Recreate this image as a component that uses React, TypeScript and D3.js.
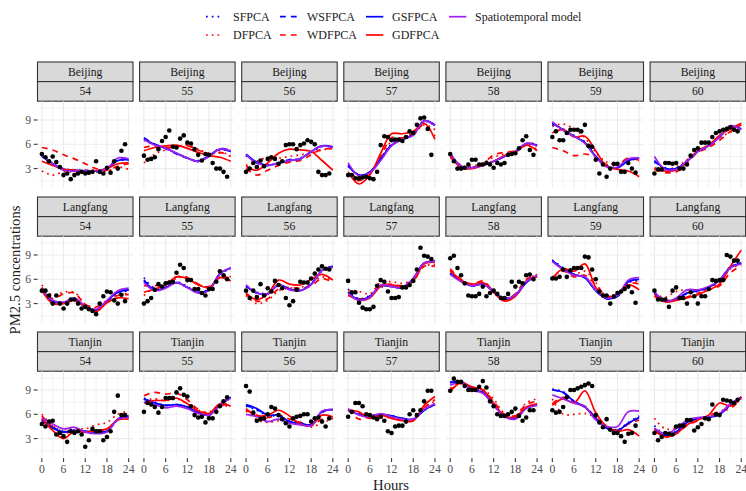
import React from "react";
import * as d3 from "d3";

const CITIES = ["Beijing", "Langfang", "Tianjin"];
const DAYS = ["54", "55", "56", "57", "58", "59", "60"];
const OBS_HOURS = [0,1,2,3,4,5,6,7,8,9,10,11,12,13,14,15,16,17,18,19,20,21,22,23];
const KNOT_HOURS = [0, 3, 6, 9, 12, 15, 18, 21, 24];
const X_TICKS = [0, 6, 12, 18, 24];
const Y_TICKS = [3, 6, 9];

// observed PM2.5 (panel order: Beijing 54..60, Langfang 54..60, Tianjin 54..60)
const OBS = [
  [4.8,4.4,3.9,4.5,3.8,3.2,2.2,2.4,1.7,2.2,2.4,2.6,2.4,2.5,2.6,3.9,2.6,2.4,3.1,2.5,3.9,3.0,5.2,6.0],
  [4.6,4.1,4.2,4.4,5.4,6.4,6.9,7.7,5.7,5.6,6.7,7.1,6.2,6.1,5.4,4.7,4.0,4.8,4.7,3.7,3.0,3.0,2.6,2.0],
  [2.6,3.0,3.7,3.2,4.0,3.3,4.2,4.4,4.2,3.6,3.9,5.9,6.0,6.0,5.4,5.9,6.1,6.5,6.3,6.0,2.6,2.2,2.2,2.4],
  [2.2,2.2,1.8,1.8,1.9,2.0,1.8,1.7,2.6,5.9,7.0,6.9,6.5,6.6,6.6,6.4,6.9,7.6,7.4,8.4,9.2,9.3,7.9,4.7],
  [4.8,3.9,3.0,3.0,3.1,3.5,4.1,4.1,3.5,3.5,3.7,3.5,3.1,3.7,3.5,3.7,4.7,4.8,4.9,5.5,6.5,7.0,5.3,4.7],
  [6.9,7.6,6.5,6.5,7.4,7.8,7.8,7.8,7.6,8.4,5.8,5.7,4.1,2.4,3.5,2.0,3.0,3.6,3.6,2.6,2.6,3.7,3.0,2.5],
  [2.4,2.9,2.9,3.7,3.7,3.6,3.7,3.0,3.0,3.5,4.6,5.3,5.5,6.2,6.2,6.2,6.9,7.4,7.6,7.8,7.9,8.1,7.8,7.6],
  [4.6,4.6,4.0,3.0,4.0,3.0,2.4,3.0,3.5,3.5,3.0,2.4,2.6,2.3,2.1,1.7,3.0,3.9,4.5,4.4,3.4,3.0,4.1,3.3],
  [3.0,3.3,3.7,4.7,5.4,5.1,5.5,5.6,5.7,6.8,7.8,7.4,5.9,5.9,4.8,4.8,4.3,4.0,4.8,4.8,5.7,7.0,6.5,6.0],
  [4.6,3.7,4.6,3.8,5.4,4.0,4.9,4.5,5.8,5.3,4.9,3.7,2.8,3.3,4.7,5.7,5.6,5.6,6.1,6.7,7.2,7.6,7.3,7.2],
  [5.8,4.4,4.4,3.1,2.5,2.3,2.3,2.6,5.2,5.9,5.7,4.5,3.7,3.7,3.8,5.0,5.0,5.3,5.8,7.2,9.9,8.9,8.8,8.5],
  [8.6,8.9,7.4,6.5,5.5,4.0,3.9,3.9,4.2,5.1,3.9,4.3,4.6,4.2,3.7,3.7,4.2,5.7,5.1,5.7,5.5,6.5,6.6,6.0],
  [6.1,6.1,6.3,7.2,6.3,7.1,7.4,7.4,7.4,8.8,8.7,7.2,6.0,4.5,4.0,4.0,3.0,3.9,4.3,4.5,4.8,5.1,4.4,3.1],
  [4.6,3.5,3.5,3.5,2.6,4.6,5.0,3.7,3.7,3.0,4.4,3.9,3.0,3.9,3.9,4.8,5.9,5.8,5.9,5.9,9.0,8.8,8.3,8.3],
  [4.8,4.5,5.1,5.2,3.5,3.7,3.3,2.6,3.9,3.7,3.9,3.5,2.0,2.8,4.2,3.9,3.9,2.8,3.2,3.9,6.3,8.3,5.9,5.9],
  [6.3,7.4,7.2,6.9,6.2,6.9,8.0,8.0,8.0,8.7,9.2,8.4,8.2,7.0,5.9,5.6,5.7,5.0,5.5,5.5,6.3,7.0,7.6,8.1],
  [9.5,8.8,6.2,5.2,5.4,5.5,6.0,6.9,6.7,5.9,5.4,4.9,4.5,5.5,5.7,5.8,6.0,6.0,5.1,5.5,5.6,5.1,4.5,5.5],
  [5.7,6.3,7.4,7.4,7.0,6.0,5.9,5.6,5.4,5.7,5.2,3.9,3.7,4.5,4.6,4.6,5.1,6.0,6.5,5.9,6.5,7.6,8.9,8.9],
  [8.9,10.4,10.0,10.0,9.5,9.0,9.0,9.0,9.4,10.1,9.3,7.6,7.0,6.0,5.8,5.8,6.0,6.3,6.7,5.8,5.2,5.6,6.5,6.5],
  [6.5,6.2,6.3,6.9,8.1,9.0,9.0,9.2,9.4,9.6,9.8,9.5,5.9,5.0,4.4,5.4,4.1,3.7,3.7,3.3,2.6,3.6,3.7,4.6],
  [3.7,2.8,3.2,3.7,3.6,3.5,4.5,4.6,4.6,5.3,5.3,4.0,4.4,4.8,5.5,5.4,7.2,6.0,5.9,7.8,7.7,7.6,7.4,7.8],
];

// fitted curves, values at KNOT_HOURS
const SFPCA = [
  [4.5,3.5,3.0,2.8,2.8,2.6,3.1,4.0,4.0],
  [6.5,5.9,5.4,4.9,4.3,4.0,4.6,5.3,5.2],
  [4.6,3.7,3.5,3.6,4.0,4.3,5.0,5.7,5.8],
  [3.3,2.2,2.6,4.2,6.0,6.6,7.2,8.8,8.4],
  [4.8,3.3,3.2,3.4,3.9,4.5,5.1,6.0,5.9],
  [8.4,7.9,7.1,6.3,4.5,3.4,3.2,4.1,4.2],
  [3.8,3.1,3.0,4.0,5.1,5.9,6.9,8.1,8.0],
  [4.6,3.2,3.0,3.5,2.6,2.2,3.2,4.3,4.6],
  [6.2,4.9,5.1,5.7,5.1,4.4,4.8,6.6,7.3],
  [5.1,4.4,4.3,5.3,4.8,4.7,5.4,7.0,7.5],
  [4.8,3.6,4.0,5.0,5.2,5.1,6.1,7.9,8.3],
  [6.8,5.8,5.3,5.4,4.6,3.7,4.1,5.6,6.5],
  [8.4,7.4,6.6,6.3,4.6,3.7,3.9,5.6,5.9],
  [4.3,3.3,3.5,4.2,4.5,5.0,5.9,7.5,8.0],
  [5.4,4.5,3.9,4.1,3.9,3.9,3.9,5.3,5.9],
  [8.0,7.5,7.1,7.2,6.9,6.2,5.9,7.1,8.0],
  [7.0,6.5,5.8,5.8,5.1,4.8,4.6,6.2,6.7],
  [6.6,6.0,5.8,6.0,5.8,5.5,5.4,6.5,7.3],
  [10.0,10.0,9.2,8.8,7.3,5.8,5.5,6.8,7.2],
  [9.1,8.8,7.6,6.9,5.5,4.3,4.1,5.0,5.8],
  [4.6,3.5,3.9,5.0,5.5,5.6,6.0,7.2,8.1],
];
const DFPCA = [
  [2.7,2.2,2.6,2.6,2.8,2.8,2.7,3.2,2.9],
  [3.7,4.8,5.3,5.7,5.9,5.4,4.9,4.9,4.8],
  [3.4,3.9,4.4,4.3,4.5,4.7,4.9,5.3,5.5],
  [2.5,1.9,2.6,4.3,6.3,6.6,7.2,8.4,7.8],
  [4.6,3.4,3.3,3.7,4.4,4.8,5.2,5.8,5.4],
  [8.2,8.5,7.9,6.8,5.0,3.8,3.5,4.2,3.9],
  [3.1,2.9,3.2,4.1,5.2,5.9,6.8,7.5,8.0],
  [5.3,4.0,4.4,4.4,2.9,2.5,3.4,4.2,4.2],
  [4.0,5.0,5.4,6.1,6.3,5.4,5.0,6.4,6.3],
  [4.0,3.0,3.4,4.6,4.9,5.0,5.5,6.3,5.8],
  [4.6,4.5,4.2,5.6,5.7,5.5,6.0,7.6,7.8],
  [7.0,5.9,5.3,5.7,4.4,3.4,4.1,5.9,6.6],
  [6.3,7.1,6.6,7.0,5.6,3.9,4.2,5.6,5.7],
  [4.2,3.8,4.5,4.7,4.4,4.9,5.6,7.3,7.8],
  [6.0,4.6,3.9,4.3,4.2,4.7,5.0,6.0,6.4],
  [7.8,7.9,7.7,7.9,7.3,6.5,6.3,7.1,6.9],
  [6.4,5.3,5.0,5.2,5.1,5.0,4.4,5.0,5.4],
  [6.6,6.0,5.6,5.6,5.6,5.2,5.4,6.8,7.6],
  [9.2,9.8,9.4,9.1,7.9,6.1,5.8,7.4,7.9],
  [7.9,6.0,6.0,6.1,5.6,4.6,4.1,4.8,5.8],
  [5.5,4.2,4.3,5.0,5.4,5.8,6.3,7.0,7.8],
];
const WSFPCA = [
  [4.6,3.6,2.9,2.7,2.7,2.7,3.0,4.1,4.1],
  [6.8,6.0,5.5,4.8,4.3,3.9,4.5,5.5,5.2],
  [4.7,3.7,3.4,3.7,4.1,4.2,5.1,5.8,5.6],
  [3.4,2.2,2.5,4.2,5.9,6.6,7.2,8.9,8.3],
  [4.8,3.3,3.1,3.5,3.9,4.5,5.1,6.1,5.8],
  [8.6,7.8,7.0,6.2,4.5,3.3,3.1,4.0,4.3],
  [3.9,3.0,3.0,3.9,5.1,5.8,6.9,8.2,7.9],
  [4.7,3.3,3.1,3.6,2.6,2.2,3.3,4.4,4.7],
  [5.9,4.8,5.0,5.6,5.0,4.4,4.7,6.7,7.4],
  [5.2,4.3,4.2,5.3,4.8,4.6,5.4,7.1,7.6],
  [4.4,3.5,3.9,5.2,5.1,5.0,6.1,8.0,8.2],
  [6.7,5.8,5.2,5.4,4.5,3.6,4.0,5.6,6.4],
  [8.3,7.3,6.6,6.2,4.6,3.6,3.9,5.7,6.0],
  [4.4,3.3,3.5,4.3,4.6,5.0,5.9,7.5,8.0],
  [5.3,4.4,3.8,4.0,3.9,3.8,3.9,5.4,5.8],
  [7.9,7.4,7.1,7.2,6.9,6.2,5.9,7.2,8.1],
  [7.1,6.6,5.9,5.8,5.1,4.9,4.7,6.3,6.6],
  [6.5,6.0,5.8,6.0,5.8,5.5,5.4,6.5,7.2],
  [9.9,10.0,9.1,8.7,7.2,5.8,5.5,6.8,7.2],
  [9.0,8.7,7.6,6.9,5.5,4.3,4.0,4.9,5.6],
  [4.0,3.4,3.8,5.0,5.5,5.6,6.0,7.2,8.1],
];
const WDFPCA = [
  [5.6,5.3,4.7,4.2,3.6,3.0,2.8,3.3,3.6],
  [5.6,5.8,5.6,5.7,5.8,5.3,4.8,5.0,4.5],
  [3.0,2.2,2.8,3.4,3.8,4.0,4.7,5.4,5.4],
  [2.4,1.5,2.3,4.5,6.8,6.8,7.4,8.4,7.0],
  [4.4,3.3,3.1,3.6,4.7,5.0,5.2,6.0,6.2],
  [5.6,5.2,4.6,4.8,4.4,3.5,3.5,4.3,4.0],
  [2.9,2.5,2.6,3.7,5.0,5.6,6.5,7.6,8.4],
  [5.0,3.6,4.2,4.3,2.9,2.6,3.3,4.0,4.1],
  [5.2,5.2,5.5,6.3,6.2,5.4,5.1,6.3,6.1],
  [4.2,3.3,3.6,4.8,5.0,4.9,5.2,6.1,5.6],
  [4.0,3.6,3.8,5.2,5.4,5.2,5.8,7.6,7.6],
  [7.3,6.0,5.4,5.8,4.5,3.5,4.2,6.0,6.6],
  [6.2,7.0,6.3,6.5,5.3,4.0,4.0,5.5,5.4],
  [4.0,3.4,3.5,3.8,4.2,4.7,5.2,6.8,7.7],
  [5.8,4.4,3.5,4.2,3.9,3.9,4.1,5.4,5.6],
  [8.3,8.7,8.5,8.6,7.8,6.6,6.1,7.0,7.4],
  [6.5,5.9,5.6,5.9,5.4,5.0,4.6,5.4,5.5],
  [6.6,5.4,5.7,5.8,5.6,5.3,5.2,6.8,7.8],
  [9.0,9.8,9.3,9.0,7.6,6.0,5.8,7.2,7.6],
  [7.3,8.1,7.4,7.0,5.6,4.5,4.0,4.8,5.3],
  [4.2,3.3,3.6,4.6,5.2,5.8,6.4,6.7,8.0],
];
const GSFPCA = [
  [4.6,3.6,2.9,2.8,2.7,2.7,3.0,4.0,4.1],
  [6.7,6.0,5.5,4.9,4.3,3.9,4.6,5.4,5.1],
  [4.8,3.8,3.4,3.7,4.0,4.2,5.1,5.8,5.7],
  [3.4,2.2,2.6,4.2,5.9,6.6,7.2,8.9,8.4],
  [4.8,3.3,3.1,3.4,3.9,4.5,5.1,6.1,5.9],
  [8.6,7.8,7.0,6.2,4.5,3.3,3.1,4.0,4.3],
  [4.0,3.0,3.0,3.9,5.1,5.8,6.9,8.2,7.9],
  [4.7,3.3,3.1,3.6,2.6,2.2,3.3,4.4,4.7],
  [5.8,4.7,5.0,5.6,5.0,4.4,4.7,6.7,7.4],
  [5.2,4.3,4.2,5.3,4.8,4.6,5.4,7.1,7.6],
  [4.4,3.5,3.9,5.2,5.1,5.0,6.1,8.0,8.2],
  [6.7,5.8,5.2,5.4,4.5,3.6,4.0,5.6,6.4],
  [8.3,7.3,6.6,6.2,4.6,3.6,3.9,5.7,6.0],
  [4.4,3.3,3.5,4.3,4.6,5.0,5.9,7.5,8.0],
  [5.2,4.3,3.8,4.0,3.9,3.8,3.9,5.4,5.8],
  [7.9,7.4,7.1,7.2,6.9,6.2,5.9,7.2,8.1],
  [7.2,6.7,5.9,5.9,5.1,4.9,4.7,6.3,6.6],
  [6.5,6.0,5.8,6.0,5.8,5.5,5.4,6.5,7.2],
  [9.9,10.0,9.1,8.7,7.2,5.8,5.5,6.8,7.2],
  [9.0,8.7,7.6,6.9,5.5,4.3,4.0,4.9,5.6],
  [4.0,3.4,3.8,5.0,5.5,5.6,6.0,7.2,8.1],
];
const GDFPCA = [
  [3.9,3.4,2.9,2.8,2.6,2.7,3.0,3.6,3.7],
  [5.2,5.6,5.8,5.9,5.5,5.0,4.6,4.4,3.9],
  [3.3,2.8,3.7,4.9,5.4,5.3,5.1,4.0,2.8],
  [2.6,1.1,2.2,4.9,7.3,7.3,7.6,8.6,6.6],
  [4.6,3.1,3.0,3.4,3.9,4.6,5.0,5.9,5.2],
  [7.4,7.8,6.9,7.0,5.2,3.3,2.9,2.7,2.0],
  [3.0,2.7,2.8,3.9,5.2,5.9,7.1,7.9,8.6],
  [4.6,3.0,3.0,3.4,2.6,2.0,3.1,3.7,3.6],
  [4.4,4.8,5.3,6.3,6.1,5.3,5.0,6.2,5.8],
  [4.3,3.5,4.2,5.9,5.4,5.3,6.0,6.6,5.9],
  [4.1,3.4,3.7,5.1,5.3,5.1,5.8,7.9,8.1],
  [7.1,5.9,5.4,5.6,4.4,3.3,3.9,5.8,6.3],
  [6.1,7.3,7.0,7.9,5.0,3.8,4.1,5.3,4.7],
  [3.9,3.2,3.4,3.7,4.1,4.7,5.4,7.6,9.6],
  [5.5,4.0,3.0,3.9,3.8,4.0,4.2,5.3,5.4],
  [7.4,7.7,7.7,8.0,7.3,6.4,6.1,7.3,7.0],
  [6.7,5.8,5.9,6.5,5.8,4.8,4.6,5.9,5.7],
  [6.5,6.3,5.5,5.9,5.5,5.2,5.2,7.1,8.2],
  [8.8,9.9,9.4,9.0,7.4,5.8,5.7,6.9,7.3],
  [7.1,7.9,7.4,8.9,6.2,4.5,3.9,4.1,3.3],
  [4.0,3.2,3.6,4.7,5.3,5.9,7.4,7.0,8.2],
];
const SPATIOTEMPORAL = [
  [4.7,3.6,2.8,2.7,2.7,2.7,3.0,4.3,4.2],
  [6.6,5.9,5.5,4.9,4.3,3.9,4.5,5.4,5.2],
  [4.7,3.7,3.4,3.7,4.0,4.2,5.1,5.8,5.6],
  [3.7,2.1,2.5,4.0,5.8,6.6,7.1,8.9,8.3],
  [4.9,3.3,3.1,3.4,3.9,4.5,5.1,6.1,5.8],
  [8.8,7.7,7.0,6.1,4.4,3.2,3.2,4.2,4.3],
  [4.5,2.9,2.9,3.9,5.1,5.8,6.9,8.3,7.8],
  [4.8,3.4,3.2,3.7,2.7,2.3,3.4,4.6,4.9],
  [5.6,4.6,4.9,5.6,5.0,4.3,4.6,6.7,7.4],
  [5.3,4.3,4.2,5.3,4.7,4.6,5.3,7.1,7.5],
  [4.3,3.4,3.8,5.3,5.1,5.0,6.1,8.0,8.2],
  [6.6,5.7,5.2,5.4,4.5,3.6,4.1,5.7,6.5],
  [8.2,7.2,6.5,6.3,4.7,3.7,4.0,5.9,6.2],
  [4.5,3.3,3.7,4.7,4.7,5.1,5.9,7.4,7.9],
  [5.5,4.8,4.2,4.4,3.8,3.6,3.8,5.4,5.6],
  [7.5,7.2,6.8,7.0,6.7,6.1,5.9,7.1,8.0],
  [6.0,5.7,5.1,5.4,4.9,4.7,4.6,6.4,6.5],
  [6.7,5.9,5.7,6.1,5.7,5.4,5.4,6.6,7.3],
  [9.6,9.9,9.0,8.6,7.1,5.7,5.4,6.7,7.1],
  [8.4,7.9,7.4,6.9,5.3,4.5,4.5,6.3,6.4],
  [4.3,3.6,4.2,5.3,5.6,5.7,6.1,7.3,8.0],
];

const SERIES_NAMES = ["SFPCA", "DFPCA", "WSFPCA", "WDFPCA", "GSFPCA", "GDFPCA", "Spatiotemporal model"];
const SERIES_DATA = [SFPCA, DFPCA, WSFPCA, WDFPCA, GSFPCA, GDFPCA, SPATIOTEMPORAL];

const BLUE = "#0000FF";
const RED = "#FF0000";
const PURPLE = "#A020F0";
const LW = 1.7;
const DOT = `${LW} ${LW * 2.4}`;
const DASH = `${LW * 3.4} ${LW * 3.0}`;
const STYLES = [
  { color: BLUE, dash: DOT },
  { color: RED, dash: DOT },
  { color: BLUE, dash: DASH },
  { color: RED, dash: DASH },
  { color: BLUE, dash: undefined },
  { color: RED, dash: undefined },
  { color: PURPLE, dash: undefined },
];

const W = 746;
const H = 491;
const FONT = "'Liberation Serif', 'DejaVu Serif', 'Times New Roman', serif";
const PANEL_LEFT0 = 37.5;
const COL_STEP = 102.1;
const PANEL_W = 95.5;
const STRIP_TOP0 = 62;
const ROW_STEP = 135;
const STRIP_H = 19.6;
const PANEL_H = 87;

export default function App() {
  const x = d3.scaleLinear().domain([-1.2, 25.2]).range([0, PANEL_W]);
  const y = d3.scaleLinear().domain([0.58, 11.32]).range([PANEL_H, 0]);
  const line = d3
    .line<[number, number]>()
    .x((d) => x(d[0]))
    .y((d) => y(d[1]))
    .curve(d3.curveCatmullRom.alpha(0.5));

  const xMinor = [3, 9, 15, 21];
  const yMinor = [1.5, 4.5, 7.5, 10.5];

  // legend layout: 2 rows, column-major
  const legendCols = [
    { keyX: 206, textX: 233 },
    { keyX: 280, textX: 307 },
    { keyX: 366, textX: 392 },
    { keyX: 449, textX: 475 },
  ];
  const legendRows = [16.7, 35];

  return (
    <svg
      width={W}
      height={H}
      style={{ position: "absolute", left: 0, top: 0, background: "#fff" }}
      fontFamily={FONT}
    >
      <rect x={0} y={0} width={W} height={H} fill="#fff" />
      <defs>
        <clipPath id="pclip">
          <rect x={0} y={0} width={PANEL_W} height={PANEL_H} />
        </clipPath>
      </defs>

      {/* legend */}
      {SERIES_NAMES.map((name, i) => {
        const col = legendCols[Math.floor(i / 2)];
        const ly = legendRows[i % 2];
        const st = STYLES[i];
        return (
          <g key={name}>
            <line
              x1={col.keyX}
              x2={col.keyX + 17.3}
              y1={ly}
              y2={ly}
              stroke={st.color}
              strokeWidth={LW}
              strokeDasharray={st.dash}
            />
            <text x={col.textX} y={ly} dy="0.35em" fontSize={12} fill="#1a1a1a">
              {name}
            </text>
          </g>
        );
      })}

      {CITIES.map((city, r) =>
        DAYS.map((day, c) => {
          const idx = r * DAYS.length + c;
          const left = PANEL_LEFT0 + c * COL_STEP;
          const stripTop = STRIP_TOP0 + r * ROW_STEP;
          const top = stripTop + 2 * STRIP_H;
          return (
            <g key={`${city}-${day}`}>
              {/* strips */}
              <rect x={left} y={stripTop} width={PANEL_W} height={STRIP_H} fill="#d9d9d9" stroke="#333333" strokeWidth={1.1} />
              <rect x={left} y={stripTop + STRIP_H} width={PANEL_W} height={STRIP_H} fill="#d9d9d9" stroke="#333333" strokeWidth={1.1} />
              <text x={left + PANEL_W / 2} y={stripTop + STRIP_H / 2} dy="0.35em" textAnchor="middle" fontSize={11.7} fill="#1a1a1a">
                {city}
              </text>
              <text x={left + PANEL_W / 2} y={stripTop + STRIP_H * 1.5} dy="0.35em" textAnchor="middle" fontSize={11.7} fill="#1a1a1a">
                {day}
              </text>
              <g transform={`translate(${left},${top})`}>
                {/* grid */}
                {xMinor.map((t) => (
                  <line key={`xm${t}`} x1={x(t)} x2={x(t)} y1={0} y2={PANEL_H} stroke="#ebebeb" strokeWidth={0.6} />
                ))}
                {yMinor.map((t) => (
                  <line key={`ym${t}`} x1={0} x2={PANEL_W} y1={y(t)} y2={y(t)} stroke="#ebebeb" strokeWidth={0.6} />
                ))}
                {X_TICKS.map((t) => (
                  <line key={`xM${t}`} x1={x(t)} x2={x(t)} y1={0} y2={PANEL_H} stroke="#ebebeb" strokeWidth={1.1} />
                ))}
                {Y_TICKS.map((t) => (
                  <line key={`yM${t}`} x1={0} x2={PANEL_W} y1={y(t)} y2={y(t)} stroke="#ebebeb" strokeWidth={1.1} />
                ))}
                {/* curves */}
                <g clipPath="url(#pclip)">
                  {SERIES_DATA.map((arr, si) => {
                    const pts = KNOT_HOURS.map((h, k) => [h, arr[idx][k]] as [number, number]);
                    const st = STYLES[si];
                    return (
                      <path
                        key={si}
                        d={line(pts) || ""}
                        fill="none"
                        stroke={st.color}
                        strokeWidth={LW}
                        strokeDasharray={st.dash}
                        strokeLinecap="butt"
                      />
                    );
                  })}
                </g>
                {/* observations */}
                {OBS[idx].map((v, k) => (
                  <circle key={k} cx={x(OBS_HOURS[k])} cy={y(v)} r={2.3} fill="#000" />
                ))}
                {/* y axis on first column */}
                {c === 0 &&
                  Y_TICKS.map((t) => (
                    <g key={`yt${t}`}>
                      <line x1={-3.7} x2={0} y1={y(t)} y2={y(t)} stroke="#333333" strokeWidth={1.1} />
                      <text x={-6.5} y={y(t)} dy="0.35em" textAnchor="end" fontSize={11.7} fill="#4d4d4d">
                        {t}
                      </text>
                    </g>
                  ))}
                {/* x axis on last row */}
                {r === CITIES.length - 1 &&
                  X_TICKS.map((t) => (
                    <g key={`xt${t}`}>
                      <line x1={x(t)} x2={x(t)} y1={PANEL_H} y2={PANEL_H + 3.7} stroke="#333333" strokeWidth={1.1} />
                      <text x={x(t)} y={PANEL_H + 15} textAnchor="middle" fontSize={11.7} fill="#4d4d4d">
                        {t}
                      </text>
                    </g>
                  ))}
              </g>
            </g>
          );
        })
      )}

      {/* axis titles */}
      <text x={391} y={489.5} textAnchor="middle" fontSize={14.7} fill="#1a1a1a">
        Hours
      </text>
      <text
        transform={`translate(20,270) rotate(-90)`}
        textAnchor="middle"
        fontSize={14.7}
        fill="#1a1a1a"
      >
        PM2.5 concentrations
      </text>
    </svg>
  );
}
